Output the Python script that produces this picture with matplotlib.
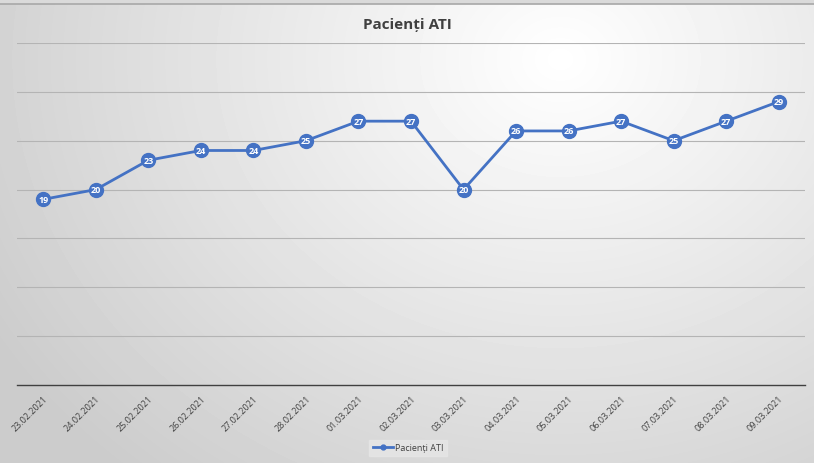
import matplotlib
matplotlib.use("Agg")
from matplotlib import pyplot as plt
import numpy as np

dates = ['23.02.2021', '24.02.2021', '25.02.2021', '26.02.2021', '27.02.2021',
         '28.02.2021', '01.03.2021', '02.03.2021', '03.03.2021', '04.03.2021',
         '05.03.2021', '06.03.2021', '07.03.2021', '08.03.2021', '09.03.2021']
pacienti = [19, 20, 23, 24, 24, 25, 27, 27, 20, 26, 26, 27, 25, 27, 29]

blue = '#4472C4'
plt.rcParams['font.family'] = ['Open Sans', 'DejaVu Sans']

W, H = 814, 464
fig = plt.figure(figsize=(W / 100, H / 100), dpi=100)

# radial gradient background, Excel style
bg = fig.add_axes([0, 0, 1, 1], zorder=-10)
yy, xx = np.mgrid[0:H, 0:W]
r = np.sqrt(((xx - 560) / 620.0) ** 2 + ((yy - 60) / 520.0) ** 2)
shade = np.clip(1.0 - 0.19 * r, 0.80, 1.0)
bg.imshow(shade, cmap='gray', vmin=0, vmax=1, aspect='auto', extent=[0, W, H, 0])
bg.fill_between([0, W], 0, 4, color='#dadada')
bg.axhline(4.5, color='#a8a8a8', lw=1.2)
bg.set_xlim(0, W)
bg.set_ylim(H, 0)
bg.axis('off')

ax = fig.add_axes([17 / W, 1 - 386 / H, 788 / W, 342 / H])
ax.patch.set_alpha(0)
x = np.arange(len(dates))
ax.plot(x, pacienti, color=blue, lw=2.0, marker='o', ms=10,
        mfc=blue, mec=blue, label='Pacienți ATI', zorder=3)
for xi, v in zip(x, pacienti):
    ax.text(xi, v, str(v), ha='center', va='center', color='white',
            fontsize=6.5, fontweight='bold', zorder=4)

ax.set_xlim(-0.5, len(dates) - 0.5)
ax.set_ylim(0, 35)
ax.set_yticks(np.arange(5, 36, 5))
ax.yaxis.grid(True, color='#b4b4b4', lw=0.8)
ax.tick_params(axis='y', length=0, labelleft=False)
ax.set_xticks(x)
ax.set_xticklabels(dates, rotation=45, ha='right', rotation_mode='anchor',
                   fontsize=6.5, color='#404040')
ax.tick_params(axis='x', length=0, pad=6)
for s in ['top', 'right', 'left']:
    ax.spines[s].set_visible(False)
ax.spines['bottom'].set_color('#404040')
ax.spines['bottom'].set_linewidth(1.0)

fig.text(0.5, 1 - 25 / H, 'Pacienți ATI', ha='center', va='center',
         fontsize=11, fontweight='bold', color='#404040')

leg = ax.legend(loc='center', bbox_to_anchor=(408 / W, 1 - 449 / H),
                bbox_transform=fig.transFigure, fontsize=6.5, frameon=True,
                handlelength=2.2, handletextpad=0.2, markerscale=0.35,
                borderpad=0.4, fancybox=False)
leg.get_frame().set_facecolor('#e6e6e6')
leg.get_frame().set_edgecolor('#e6e6e6')
for t in leg.get_texts():
    t.set_color('#404040')

fig.savefig('out.png', dpi=100)
